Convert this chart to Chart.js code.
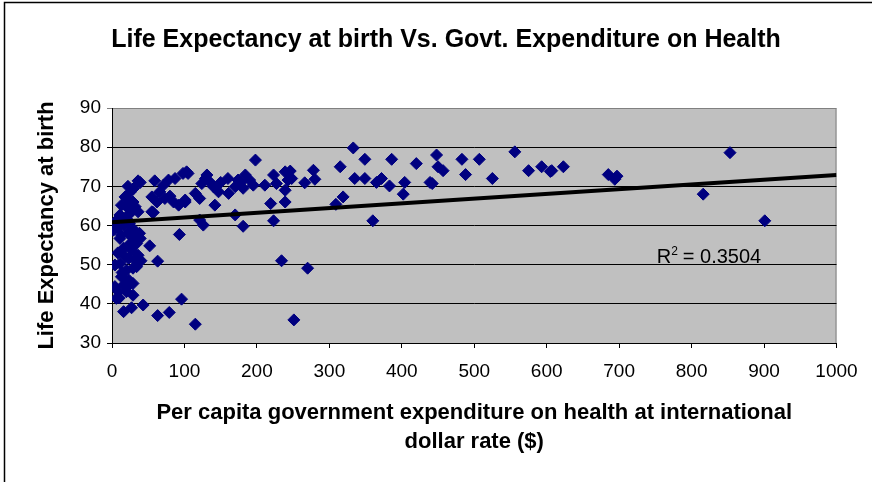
<!DOCTYPE html>
<html>
<head>
<meta charset="utf-8">
<title>Life Expectancy vs Govt. Expenditure on Health</title>
<script src="https://cdn.jsdelivr.net/npm/chart.js@4.4.1/dist/chart.umd.min.js"></script>
<style>
  body { margin: 0; background: #fff; }
  canvas { display: block; }
</style>
</head>
<body>
<canvas id="chartVida" width="872" height="482"></canvas>
<script>
// per capita govt expenditure on health (intl $)
const gasto = [
    2, 11, 23, 32, 39, 34, 25, 16, 27, 36, 32, 23, 4, 11, 20, 29, 34, 13, 23, 4, 16, 29, 9, 20, 6, 29, 16, 27, 43, 52, 63, 93, 96, 63, 79, 115, 13, 27, 8, 18, 14, 22, 10, 40, 38,
    2, 8, 17, 24, 30, 18, 25, 13, 32, 36, 11, 27, 20, 9, 23, 29, 20, 55, 57, 36, 59, 39, 71, 78, 87, 98, 103, 55, 66, 73, 85, 92, 101, 80, 62, 25, 30, 22,
    105, 131, 135, 124, 140, 147, 115, 121, 142, 161, 174, 184, 190, 181, 170, 195, 211, 223, 227, 239, 243, 239, 219, 239, 170, 181, 223, 126, 121, 101, 198, 246, 248, 278, 280, 266, 234, 270, 251, 178, 150, 160, 129,
    333, 315, 349, 386, 420, 448, 450, 457, 483, 507, 488, 525, 556, 575, 593, 607, 623, 605, 685, 697, 694, 853, 816, 901, 335, 349, 365, 372, 383, 404, 402, 439, 442, 319, 309, 360
];

// life expectancy at birth (years), same order as gasto
const esperanza = [
    58.8, 56.7, 58.0, 57.6, 56.7, 55.4, 55.4, 54.2, 53.7, 52.4, 51.2, 51.6, 49.9, 50.3, 48.6, 49.1, 49.5, 46.9, 46.1, 44.4, 44.8, 45.2, 43.1, 43.1, 41.4, 42.2, 38.0, 39.0, 39.7, 54.8, 50.9, 57.7, 41.2, 37.0, 37.8, 34.8, 57.6, 57.1, 53, 52, 48, 44.5, 41.5, 51, 58,
    60.5, 59.5, 60, 60.5, 59, 67.3, 66.0, 65.2, 64.8, 63.5, 62.7, 63.5, 61.8, 61.8, 62.8, 66.0, 64.8, 63.5, 63.3, 71.4, 71.4, 71.0, 70.3, 71.6, 72.0, 73.3, 73.7, 67.3, 68.6, 66.9, 66.0, 65.2, 66.5, 67.5, 66, 68.5, 69.5, 70,
    73.3, 72.9, 71.1, 70.7, 69.9, 68.6, 68.2, 66.9, 65.2, 68.2, 71.6, 72.9, 71.6, 69.5, 69.9, 70.3, 70.3, 72.9, 70.7, 73.7, 71.6, 69.0, 65.6, 66.0, 62.7, 59.8, 61.2, 60.1, 61.4, 66.0, 76.7, 73.9, 72.0, 74.1, 71.8, 70.9, 51.0, 49.1, 35.9, 71, 71, 72, 72,
    79.8, 75.0, 76.9, 76.9, 75.8, 78.0, 75.0, 74.0, 76.9, 76.9, 73.0, 72.0, 78.8, 74.0, 75.0, 74.0, 75.0, 73.8, 73.0, 72.6, 71.8, 78.6, 68.0, 61.2, 72.0, 72.0, 71.0, 72.0, 70.1, 71.0, 68.0, 71.0, 70.7, 67.3, 65.4, 61.2
];

// linear trendline end points
const tendenciaX = [0, 1000];
const tendenciaY = [60.8, 72.9];
const rCuadrado = '0.3504';

const titulo = 'Life Expectancy at birth Vs. Govt. Expenditure on Health';
const tituloX = ['Per capita government expenditure on health at international', 'dollar rate ($)'];
const tituloY = 'Life Expectancy at birth';

const fuente = '"Liberation Sans", Arial, sans-serif';

const puntos = gasto.map((g, i) => ({ x: g, y: esperanza[i] }));
const tendencia = tendenciaX.map((t, i) => ({ x: t, y: tendenciaY[i] }));

const decoracion = {
    id: 'decoracion',
    beforeDraw: (chart) => {
        const { ctx, chartArea: a } = chart;
        ctx.save();
        ctx.fillStyle = '#C0C0C0';
        ctx.fillRect(a.left, a.top, a.right - a.left, a.bottom - a.top);
        ctx.strokeStyle = '#808080';
        ctx.lineWidth = 1;
        ctx.beginPath();
        ctx.moveTo(a.left, a.top + 0.5);
        ctx.lineTo(a.right - 0.5, a.top + 0.5);
        ctx.lineTo(a.right - 0.5, a.bottom);
        ctx.stroke();
        ctx.restore();
    },
    afterDraw: (chart) => {
        const { ctx, scales } = chart;
        ctx.save();
        // marco
        ctx.strokeStyle = '#000';
        ctx.lineWidth = 1.5;
        ctx.beginPath();
        ctx.moveTo(4.5, 482);
        ctx.lineTo(4.5, 2.5);
        ctx.lineTo(872, 2.5);
        ctx.stroke();
        // titulo
        ctx.fillStyle = '#000';
        ctx.font = 'bold 25px ' + fuente;
        ctx.textAlign = 'center';
        ctx.textBaseline = 'middle';
        ctx.fillText(titulo, 446, 40);
        // R^2
        const px = scales.x.getPixelForValue(752);
        const py = scales.y.getPixelForValue(50.3);
        ctx.textAlign = 'left';
        ctx.textBaseline = 'alphabetic';
        ctx.font = '20px ' + fuente;
        ctx.fillText('R', px, py);
        const w = ctx.measureText('R').width;
        ctx.font = '12px ' + fuente;
        ctx.fillText('2', px + w, py - 8);
        ctx.font = '20px ' + fuente;
        ctx.fillText(' = ' + rCuadrado, px + w + 6, py);
        ctx.restore();
    }
};

const canvas = document.getElementById('chartVida');
const ctx = canvas.getContext('2d');

const chartVida = new Chart(ctx, {
    type: 'scatter',
    data: {
        datasets: [{
            type: 'line',
            data: tendencia,
            borderColor: '#000',
            borderWidth: 4,
            pointRadius: 0,
            fill: false
        }, {
            data: puntos,
            pointStyle: 'rectRot',
            pointRadius: 6,
            backgroundColor: '#000080',
            borderColor: '#000080',
            borderWidth: 1
        }]
    },
    options: {
        responsive: false,
        animation: false,
        layout: { padding: { top: 108, right: 35.5, left: 0, bottom: 0 } },
        plugins: {
            legend: { display: false },
            tooltip: { enabled: false }
        },
        scales: {
            x: {
                type: 'linear',
                min: 0,
                max: 1000,
                ticks: {
                    stepSize: 100,
                    color: '#000',
                    font: { family: fuente, size: 19 },
                    padding: 12,
                    maxRotation: 0,
                    callback: (v) => String(v)
                },
                grid: { drawOnChartArea: false, color: '#000', tickLength: 5 },
                border: { color: '#000' },
                title: {
                    display: true,
                    text: tituloX,
                    color: '#000',
                    font: { family: fuente, size: 22, weight: 'bold', lineHeight: 1.32 },
                    padding: { top: 0, bottom: 26 }
                },
                afterFit: (s) => { s.height = 139; }
            },
            y: {
                min: 30,
                max: 90,
                ticks: { stepSize: 10, color: '#000', font: { family: fuente, size: 19 }, padding: 6 },
                grid: {
                    color: (c) => c.tick && c.tick.value === 90 ? '#808080' : '#000',
                    tickLength: 5
                },
                border: { color: '#000' },
                title: {
                    display: true,
                    text: tituloY,
                    color: '#000',
                    font: { family: fuente, size: 22, weight: 'bold' },
                    padding: { top: 34, bottom: 0 }
                },
                afterFit: (s) => { s.width = 112; }
            }
        }
    },
    plugins: [decoracion]
});
</script>
</body>
</html>
